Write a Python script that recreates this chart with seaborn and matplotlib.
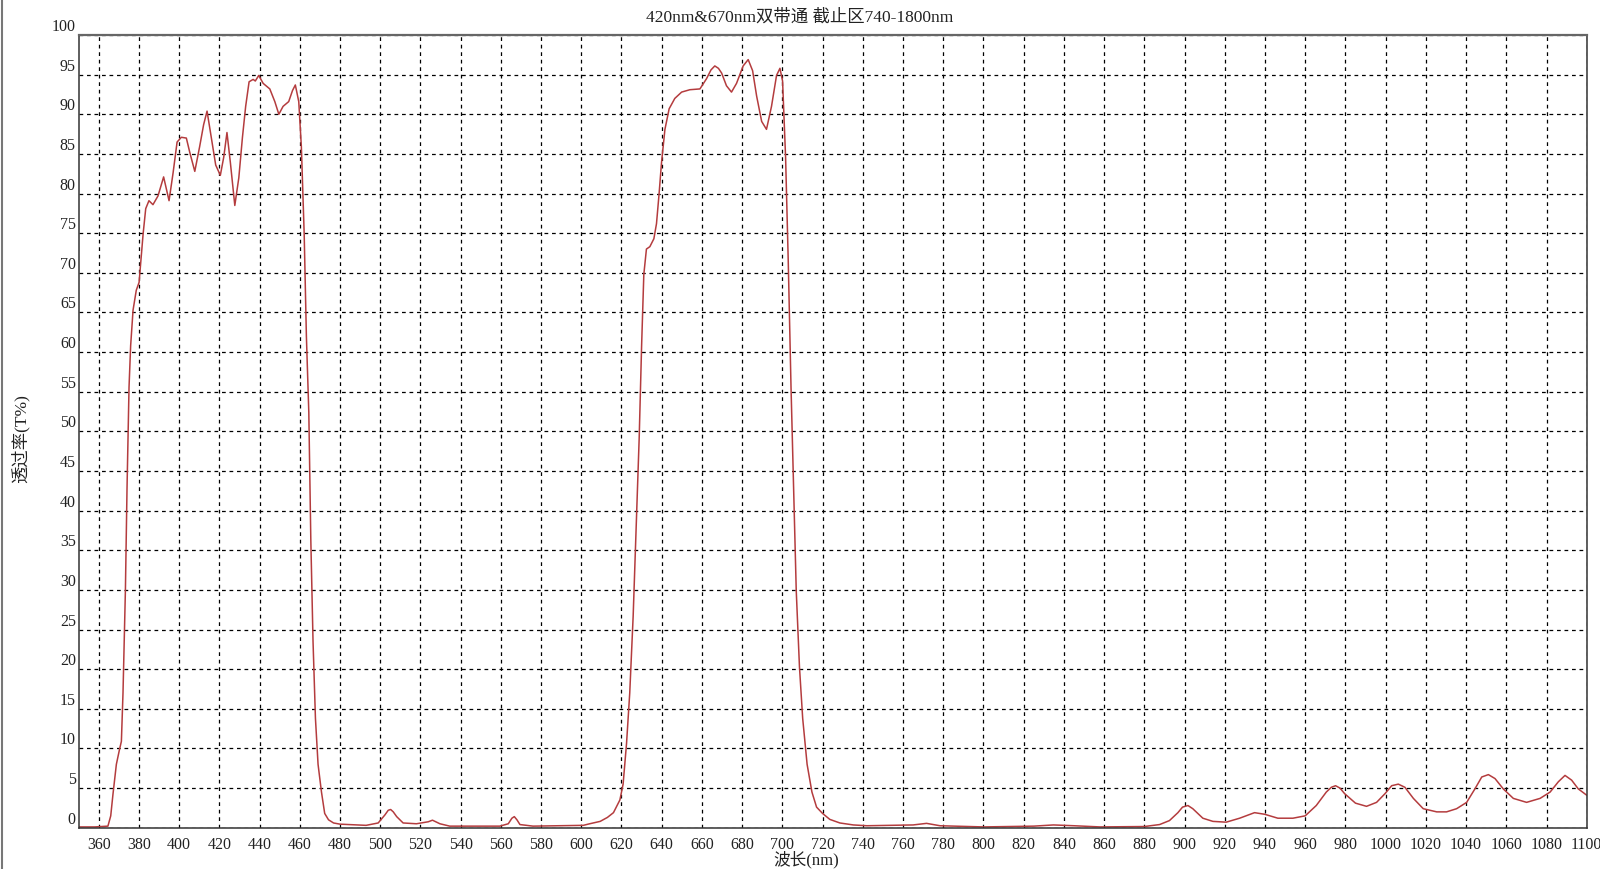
import numpy as np
import pandas as pd
import matplotlib
matplotlib.use("Agg")
import matplotlib.pyplot as plt
from matplotlib.lines import Line2D
import seaborn as sns

# values
wavelength = [350, 358, 364.6, 366.0, 367.1, 368.8, 370.3, 371.3, 372.1, 373.3, 374.1, 375.1,
              375.9, 377.1, 378.7, 380.1, 382.1, 383.4, 385.0, 387.0, 389.5, 392.3, 395.0,
              397.0, 399.0, 401.1, 403.6, 405.3, 407.8, 410.2, 412.2, 413.9, 416.0, 418.2,
              420.5, 422.2, 423.8, 425.5, 427.7, 429.7, 431.5, 433.1, 434.8, 436.8, 437.9,
              439.6, 441.8, 445.1, 447.6, 449.6, 451.7, 454.5, 456.4, 457.8, 459.5, 460.8,
              462.2, 463.3, 464.5, 465.5, 466.6, 467.8, 469.1, 470.8, 472.4, 474.3, 476.8,
              480, 493, 499, 502.3, 504.0, 505.2, 506.5, 508.2, 511.4, 518, 523.9, 526,
              529.7, 534.6, 559.5, 563.7, 565.5, 566.7, 568.0, 569.5, 576, 601, 604.2,
              609.4, 613, 616, 619.2, 620.8, 622.5, 624.1, 625.8, 627.5, 628.8, 630.0,
              631.1, 632.4, 634.1, 636.1, 637.4, 638.7, 639.9, 641.6, 643.7, 646.5, 649.9,
              654.0, 659.0, 662.3, 664.5, 666.4, 668.2, 669.8, 672.2, 674.7, 677.2, 680.5,
              683.0, 685.2, 687.2, 689.7, 692.1, 694.6, 697.1, 698.8, 700.1, 701.6, 702.9,
              704.3, 705.6, 706.9, 708.5, 710.1, 712.3, 714.7, 717.0, 720.0, 723.6, 728.6,
              735.3, 742, 765, 771.7, 778.4, 800, 825, 834.8, 845, 858, 880, 887.6, 892.5,
              896.7, 899.0, 901.7, 904.1, 909.1, 914.1, 920.7, 927.4, 934.8, 939.8, 946.4,
              953.9, 960, 965.5, 970.5, 973.0, 975.1, 977.3, 979.6, 985, 990.5, 995.5,
              999.7, 1003, 1006.3, 1009.6, 1013.8, 1018.7, 1025.4, 1030.3, 1035.3, 1040.3,
              1044.4, 1047.8, 1051.1, 1054.4, 1058.5, 1063.5, 1070.1, 1076.8, 1081.8,
              1085.9, 1089.2, 1092.5, 1095.8, 1100]

transmittance = [0.1, 0.1, 0.2, 1.5, 4.2, 8.0, 9.8, 10.9, 17.0, 30.0, 42.8, 55.6,
                 60.8, 65.3, 67.8, 68.8, 74.9, 78.1, 79.1, 78.6, 79.7, 82.1, 79.1,
                 82.6, 86.5, 87.1, 87.0, 85.2, 82.8, 85.9, 88.7, 90.4, 87.1, 83.6,
                 82.3, 84.6, 87.7, 83.9, 78.5, 82.0, 87.1, 91.0, 94.1, 94.4, 94.2,
                 94.9, 93.9, 93.2, 91.6, 90.0, 91.0, 91.6, 93.0, 93.7, 91.6, 85.9,
                 74.9, 62.0, 52.4, 36.3, 23.5, 13.8, 8.0, 4.5, 1.8, 1.0, 0.6,
                 0.45, 0.3, 0.6, 1.6, 2.2, 2.3, 2.0, 1.4, 0.6, 0.5, 0.75, 0.95,
                 0.5, 0.2, 0.2, 0.5, 1.2, 1.4, 1.0, 0.4, 0.2, 0.3, 0.5,
                 0.8, 1.3, 1.9, 3.5, 5.5, 10.6, 17.0, 26.7, 39.5, 49.2, 60.8,
                 69.8, 73.0, 73.3, 74.3, 76.2, 80.0, 83.9, 88.1, 90.7, 92.0, 92.8,
                 93.1, 93.2, 94.5, 95.6, 96.1, 95.8, 95.2, 93.6, 92.8, 93.9, 96.1,
                 96.9, 95.5, 92.3, 89.1, 88.1, 91.0, 94.9, 95.8, 94.2, 84.6, 71.7,
                 55.6, 42.8, 29.9, 20.3, 13.8, 8.0, 4.5, 2.6, 1.8, 1.05, 0.6,
                 0.35, 0.25, 0.35, 0.55, 0.25, 0.1, 0.2, 0.35, 0.25, 0.1, 0.15, 0.4, 0.9,
                 1.9, 2.6, 2.8, 2.4, 1.2, 0.8, 0.7, 1.2, 1.9, 1.7, 1.2,
                 1.2, 1.5, 2.8, 4.5, 5.1, 5.3, 5.0, 4.3, 3.1, 2.7, 3.2,
                 4.3, 5.3, 5.5, 5.1, 3.7, 2.4, 2.0, 2.0, 2.4, 3.2,
                 4.9, 6.4, 6.7, 6.2, 4.9, 3.7, 3.2, 3.7, 4.5,
                 5.8, 6.6, 6.0, 4.9, 4.1]

x_ticks = list(range(360, 1101, 20))
y_ticks = list(range(0, 101, 5))

title = '420nm&670nm双带通 截止区740-1800nm'
x_label = '波长(nm)'
y_label = '透过率(T%)'

df = pd.DataFrame({'wavelength': wavelength, 'transmittance': transmittance})

sns.set_style('white')
plt.rcParams['font.family'] = ['Liberation Serif', 'Noto Sans CJK SC', 'DejaVu Sans']

fig = plt.figure(figsize=(16, 8.69), dpi=100)
ax = fig.add_axes([0.0491, 0.0475, 0.9426, 0.9122])

sns.lineplot(data=df, x='wavelength', y='transmittance', ax=ax,
             color='#b43c3e', linewidth=1.1, sort=False)

ax.set_xlim(350, 1100)
ax.set_ylim(0, 100)
ax.set_xticks(x_ticks)
ax.set_yticks(y_ticks)
ax.grid(True, color='black', linestyle=(0, (3, 3)), linewidth=0.9)
ax.tick_params(axis='both', length=0, labelsize=11.5, colors='#222222')
ax.tick_params(axis='x', pad=7)
ax.tick_params(axis='y', pad=2)
for lab in ax.get_yticklabels():
    lab.set_verticalalignment('bottom')
ax.set_xlabel('')
ax.set_ylabel('')

for side in ['left', 'right', 'bottom']:
    ax.spines[side].set_color('#333333')
    ax.spines[side].set_linewidth(1.1)
ax.spines['top'].set_color('#666666')
ax.spines['top'].set_linewidth(1.6)

fig.text(0.5, 0.980, title, ha='center', va='center', fontsize=12.5, color='#222222')
fig.text(0.504, 0.011, x_label, ha='center', va='center', fontsize=12, color='#222222')
fig.text(0.0128, 0.495, y_label, ha='center', va='center', rotation=90,
         fontsize=12.5, color='#222222')

# window border on the left edge
fig.add_artist(Line2D([0.0015, 0.0015], [0, 1], transform=fig.transFigure,
                      color='#777777', linewidth=1.5))

fig.savefig('out.png', dpi=100, facecolor='white')
